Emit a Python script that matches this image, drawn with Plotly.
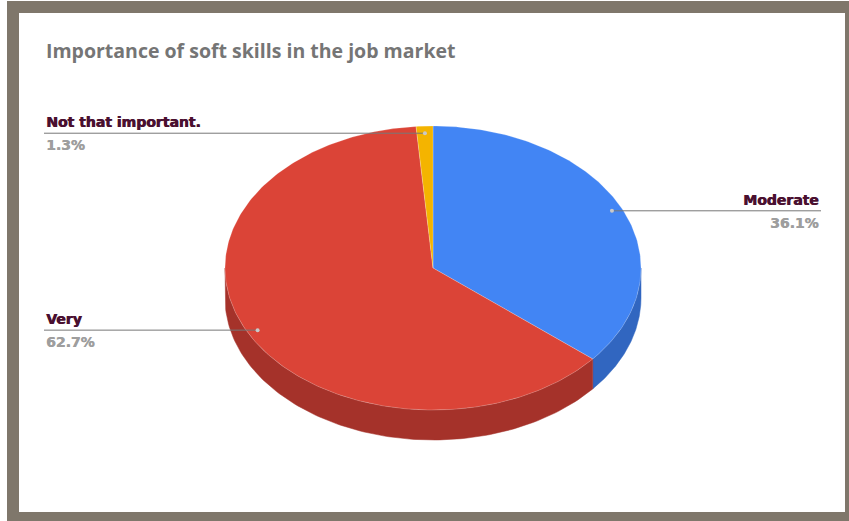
import numpy as np
import plotly.graph_objects as go

# Survey answers: share of respondents (percent)
categories = ["Moderate", "Very", "Not that important."]
values = [36.1, 62.7, 1.3]
top_colors = ["#4285F4", "#DB4437", "#F4B400"]
side_colors = ["#3166C0", "#A5322A", "#B88700"]

title_text = "Importance of soft skills in the job market"

# Canvas works in pixel units: x to the right, y downward
W, H = 849, 521
cx, cy = 433, 268          # centre of the pie's top face
rx, ry = 208, 142          # ellipse radii of the top face
depth = 30                 # thickness of the disc
label_r = 0.95             # where leader lines touch the slice

total = sum(values)
fracs = [v / total for v in values]
starts = np.cumsum([0] + fracs[:-1])
ends = np.cumsum(fracs)


def ell(theta, r=1.0, dy=0.0):
    """Point on the tilted disc; theta in turns, clockwise from 12 o'clock."""
    a = 2 * np.pi * np.asarray(theta)
    return cx + r * rx * np.sin(a), cy - r * ry * np.cos(a) + dy


fig = go.Figure()

# Visible side walls: front half of the disc (0.25 .. 0.75 turn)
for s, e, col in zip(starts, ends, side_colors):
    a0, a1 = max(s, 0.25), min(e, 0.75)
    if a1 <= a0:
        continue
    t = np.linspace(a0, a1, 120)
    xt, yt = ell(t)
    xb, yb = ell(t[::-1], dy=depth)
    fig.add_trace(go.Scatter(
        x=np.concatenate([xt, xb, xt[:1]]),
        y=np.concatenate([yt, yb, yt[:1]]),
        mode="lines", fill="toself", fillcolor=col,
        line=dict(color=col, width=0.5), hoverinfo="skip", showlegend=False))

# Top faces of the slices
for s, e, col, name in zip(starts, ends, top_colors, categories):
    t = np.linspace(s, e, max(int((e - s) * 400), 8))
    xs, ys = ell(t)
    fig.add_trace(go.Scatter(
        x=np.concatenate([[cx], xs, [cx]]),
        y=np.concatenate([[cy], ys, [cy]]),
        mode="lines", fill="toself", fillcolor=col,
        line=dict(color="rgba(255,255,255,0.35)", width=0.6),
        name=name, hoverinfo="name", showlegend=False))

# Leader lines with labels (a thin text shadow thickens the heavy label face)
label_side = ["right", "left", "left"]
left_x, right_x = 44, 821
name_color, pct_color = "#4A1030", "#9E9E9E"
for s, e, name, v, side in zip(starts, ends, categories, values, label_side):
    mid = (s + e) / 2
    px, py = ell(mid, r=label_r)
    end_x = right_x if side == "right" else left_x
    fig.add_trace(go.Scatter(
        x=[float(px), end_x], y=[float(py), float(py)], mode="lines",
        line=dict(color="#777777", width=1), hoverinfo="skip", showlegend=False))
    fig.add_trace(go.Scatter(
        x=[float(px)], y=[float(py)], mode="markers",
        marker=dict(color="#c9c9c9", size=4), hoverinfo="skip", showlegend=False))
    anchor = "right" if side == "right" else "left"
    fig.add_annotation(
        x=end_x, y=float(py) - 1, text=name, showarrow=False,
        xanchor=anchor, yanchor="bottom",
        font=dict(family="DejaVu Sans", size=14, color=name_color, weight="bold",
                  shadow=f"0.7px 0px 0px {name_color}"))
    fig.add_annotation(
        x=end_x, y=float(py) + 2, text=f"{v}%", showarrow=False,
        xanchor=anchor, yanchor="top",
        font=dict(family="DejaVu Sans", size=14, color=pct_color, weight="bold",
                  shadow=f"0.5px 0px 0px {pct_color}"))

# Frame around the card
frame_shapes = [
    dict(type="rect", x0=7, x1=W + 2, y0=1, y1=H + 2, fillcolor="#7F776B",
         line=dict(width=0), layer="below"),
    dict(type="rect", x0=19, x1=845, y0=13, y1=512, fillcolor="#FFFFFF",
         line=dict(width=0), layer="below"),
]

fig.add_annotation(
    x=44, y=50, text=title_text, showarrow=False, xanchor="left", yanchor="middle",
    font=dict(family="Open Sans", size=19.5, color="#757575", weight="bold"))

fig.update_layout(
    width=W, height=H,
    margin=dict(l=0, r=0, t=0, b=0),
    paper_bgcolor="#FFFFFF", plot_bgcolor="rgba(0,0,0,0)",
    shapes=frame_shapes,
    xaxis=dict(range=[0, W], visible=False, fixedrange=True),
    yaxis=dict(range=[H, 0], visible=False, fixedrange=True),
    showlegend=False,
)

fig.write_html("out.html")
